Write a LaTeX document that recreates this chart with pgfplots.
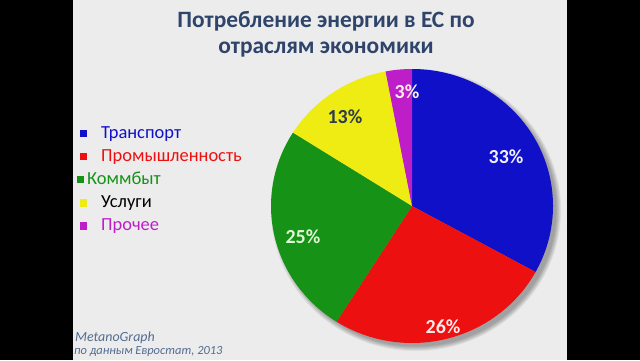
\documentclass[border=0pt]{standalone}
\usepackage{fontspec}
\setmainfont{Carlito}
\usepackage{pgfplots}
\usepackage{pgfplotstable}
\pgfplotsset{compat=1.18}
\definecolor{pc0}{RGB}{16,16,200}
\definecolor{pc1}{RGB}{236,16,16}
\definecolor{pc2}{RGB}{22,146,22}
\definecolor{pc3}{RGB}{238,236,18}
\definecolor{pc4}{RGB}{190,30,200}
\definecolor{titlec}{RGB}{46,68,106}
\definecolor{bg}{RGB}{236,236,236}
\definecolor{srcc}{RGB}{84,108,145}
\definecolor{lab13}{RGB}{45,60,78}
\definecolor{lab25}{RGB}{225,245,215}
\definecolor{lab26}{RGB}{255,235,235}
\definecolor{lab33}{RGB}{240,240,255}

\pgfplotstableread{
name value
Transport 33
Industry 26
Kommbyt 25
Uslugi 13
Other 3
}\piedata

\begin{document}
\begin{tikzpicture}[x=1bp,y=1bp]
% slide background and black bars
\fill[black] (0,0) rectangle (640,360);
\fill[bg] (73,0) rectangle (567,360);
% soft shadow of the pie
\foreach \k in {0,...,5}{
  \fill[black,opacity=0.06] (416,150) ellipse [x radius={140.5+\k*0.9}, y radius={136.5+\k*0.9}];
}
% compute slice angles from the table
\gdef\cum{0}
\foreach \i in {0,...,4}{%
  \pgfplotstablegetelem{\i}{value}\of\piedata
  \let\v\pgfplotsretval
  \pgfmathsetmacro{\s}{90-3.6*\cum}%
  \pgfmathsetmacro{\e}{90-3.6*(\cum+\v)}%
  \expandafter\xdef\csname sA\i\endcsname{\s}%
  \expandafter\xdef\csname eA\i\endcsname{\e}%
  \pgfmathsetmacro{\c}{\cum+\v}%
  \xdef\cum{\c}%
}
\begin{axis}[
  at={(0,0)}, anchor=south west,
  scale only axis, width=640bp, height=360bp,
  xmin=0, xmax=640, ymin=0, ymax=360, y dir=reverse,
  hide axis, clip=false]
\pgfplotsinvokeforeach{0,...,4}{
  \fill[pc#1] (axis cs:412,206) -- ++(\csname sA#1\endcsname:141bp and 137bp)
    arc[start angle=\csname sA#1\endcsname, end angle=\csname eA#1\endcsname,
        x radius=141bp, y radius=137bp] -- cycle;
}
\begin{scope}[font=\bfseries\fontsize{20}{24}\selectfont]
\node[lab33] at (axis cs:506,157) {33\%};
\node[lab26] at (axis cs:443,327) {26\%};
\node[lab25] at (axis cs:303,237) {25\%};
\node[lab13] at (axis cs:345,117) {13\%};
\node[lab26] at (axis cs:407,92) {3\%};
\end{scope}
\end{axis}
% title
\begin{scope}[font=\bfseries\fontsize{23.5}{28}\selectfont, text=titlec]
\node[anchor=base] at (326,333) {Потребление энергии в ЕС по};
\node[anchor=base] at (326,307) {отраслям экономики};
\end{scope}
% legend
\begin{scope}[font=\fontsize{18.5}{22}\selectfont]
\fill[pc0] (79.5,222.75) rectangle ++(7.5,7.5);
\node[anchor=base west, inner sep=0, text=pc0] at (101,221.7) {Транспорт};
\fill[pc1] (79.5,199.65) rectangle ++(7.5,7.5);
\node[anchor=base west, inner sep=0, text=pc1] at (101,198.6) {Промышленность};
\fill[pc2] (76.5,176.55) rectangle ++(7.5,7.5);
\node[anchor=base west, inner sep=0, text=pc2] at (87,175.5) {Коммбыт};
\fill[pc3] (79.5,153.45) rectangle ++(7.5,7.5);
\node[anchor=base west, inner sep=0, text=black] at (101,152.4) {Услуги};
\fill[pc4] (79.5,130.35) rectangle ++(7.5,7.5);
\node[anchor=base west, inner sep=0, text=pc4] at (101,129.3) {Прочее};
\end{scope}
% source
\begin{scope}[text=srcc]
\node[anchor=base west, inner sep=0, font=\itshape\fontsize{14}{16}\selectfont] at (75,18.5) {MetanoGraph};
\node[anchor=base west, inner sep=0, font=\itshape\fontsize{12.5}{14}\selectfont] at (74,6) {по данным Евростат, 2013};
\end{scope}
\end{tikzpicture}
\end{document}
